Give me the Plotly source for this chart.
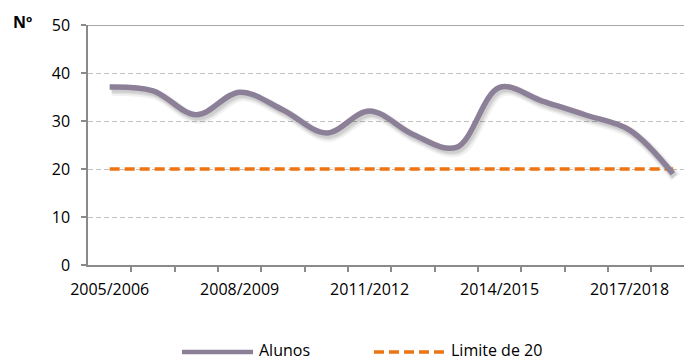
import plotly.graph_objects as go

# School years and number of students (Alunos) per year
anos = ["2005/2006", "2006/2007", "2007/2008", "2008/2009", "2009/2010",
        "2010/2011", "2011/2012", "2012/2013", "2013/2014", "2014/2015",
        "2015/2016", "2016/2017", "2017/2018", "2018/2019"]
alunos = [37.1, 36.3, 31.3, 36.0, 32.3, 27.5, 32.1, 27.2, 24.5, 37.0,
          34.1, 31.2, 28.1, 19.0]
limite = [20] * len(anos)

y_ticks = [0, 10, 20, 30, 40, 50]
x_label_idx = [0, 3, 6, 9, 12]

LINE_C = "#8C7F98"
ORANGE = "#EE7411"
AXIS_C = "#8A8A8A"
GRID_C = "#C0C0C0"
FONT = "Open Sans"
FS = 16

W, H = 684, 361
M_L, M_R, M_T, M_B = 88, 0, 25, 96
x_range = [-0.5, 13.255]
y_range = [0, 50]

# soft drop shadow under the main line (offset a few pixels down/right)
px_x = (x_range[1] - x_range[0]) / (W - M_L - M_R)
px_y = (y_range[1] - y_range[0]) / (H - M_T - M_B)
xi = list(range(len(anos)))

fig = go.Figure()
for w, a, dx, dy in [(11, 0.05, 2.5, 3.5), (8, 0.07, 2.0, 3.0), (6, 0.08, 1.5, 2.5)]:
    fig.add_trace(go.Scatter(
        x=[v + dx * px_x for v in xi], y=[v - dy * px_y for v in alunos],
        mode="lines", line=dict(color=f"rgba(0,0,0,{a})", width=w, shape="spline", smoothing=1),
        hoverinfo="skip", showlegend=False))

fig.add_trace(go.Scatter(
    x=xi, y=limite, mode="lines", name="Limite de 20",
    line=dict(color=ORANGE, width=3.5, dash="10px,5px"), showlegend=False))

fig.add_trace(go.Scatter(
    x=xi, y=alunos, mode="lines", name="Alunos",
    line=dict(color=LINE_C, width=5.5, shape="spline", smoothing=1), showlegend=False))

fig.update_layout(
    width=W, height=H,
    margin=dict(l=M_L, r=M_R, t=M_T, b=M_B),
    plot_bgcolor="white", paper_bgcolor="white",
    font=dict(family=FONT, size=FS, color="#000000"),
    xaxis=dict(
        range=x_range, tickmode="array", tickvals=x_label_idx,
        ticktext=[anos[i] for i in x_label_idx], ticks="",
        ticklabelstandoff=9,
        showgrid=False, zeroline=False,
        showline=True, linecolor=AXIS_C, linewidth=1.5,
        minor=dict(tickvals=[i + 0.5 for i in range(len(anos))], ticks="outside",
                   ticklen=5, tickcolor=AXIS_C, tickwidth=1.5, showgrid=False),
    ),
    yaxis=dict(
        range=y_range, tickmode="array", tickvals=y_ticks,
        ticks="outside", ticklen=5, tickcolor=AXIS_C, tickwidth=1.5,
        ticklabelstandoff=8,
        showgrid=True, gridcolor=GRID_C, gridwidth=1.3, griddash="5px,3px",
        zeroline=False, showline=True, linecolor=AXIS_C, linewidth=1.5,
    ),
)

# solid top border at the maximum of the value axis
fig.add_shape(type="line", xref="paper", yref="y", x0=0, x1=1, y0=50, y1=50,
              line=dict(color=AXIS_C, width=1.5), layer="below")

# axis title
fig.add_annotation(text="<b>Nº</b>", xref="paper", yref="paper",
                   x=-(M_L - 11) / (W - M_L - M_R), y=1 + 3 / (H - M_T - M_B),
                   xanchor="left", yanchor="middle", showarrow=False,
                   font=dict(family=FONT, size=FS, color="#000000"))

# legend below the chart
def paper_x(px):
    return (px - M_L) / (W - M_L - M_R)

def paper_y(py):
    return (H - M_B - py) / (H - M_T - M_B)

leg_y = paper_y(352)
legend_items = [("Alunos", LINE_C, None, 4.5, 182, 253, 258),
                ("Limite de 20", ORANGE, "10px,5px", 3.5, 374, 444, 450)]
for label, color, dash, lw, x0, x1, tx in legend_items:
    fig.add_shape(type="line", xref="paper", yref="paper",
                  x0=paper_x(x0), x1=paper_x(x1), y0=leg_y, y1=leg_y,
                  line=dict(color=color, width=lw, dash=dash if dash else "solid"))
    fig.add_annotation(text=label, xref="paper", yref="paper",
                       x=paper_x(tx), y=paper_y(350), xanchor="left", yanchor="middle",
                       showarrow=False, borderpad=0,
                       font=dict(family=FONT, size=FS, color="#000000"))

fig.write_html("out.html")
